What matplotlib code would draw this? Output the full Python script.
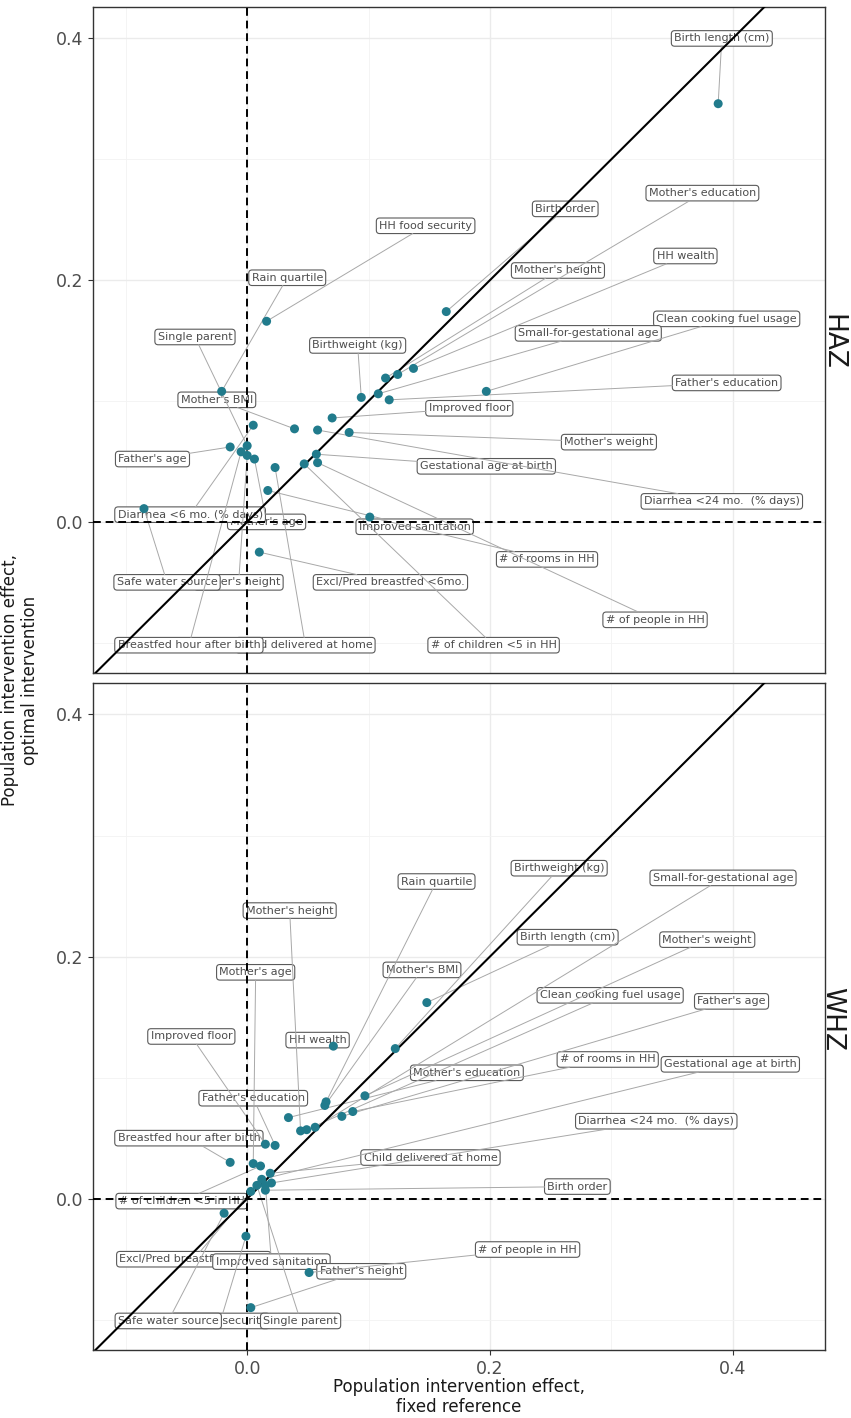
import matplotlib
matplotlib.use("Agg")
import matplotlib.pyplot as plt

# ---- HAZ panel: fixed-reference effect (x), optimal-intervention effect (y)
haz_labels = ["Mother's age", "Father's height", "Child delivered at home",
              "Birth length (cm)", "HH food security", "Birth order",
              "Mother's education", "Mother's height", "HH wealth",
              "Clean cooking fuel usage", "Small-for-gestational age",
              "Father's education", "Birthweight (kg)", "Improved floor",
              "Mother's weight", "Gestational age at birth",
              "Diarrhea <24 mo.  (% days)", "# of children <5 in HH",
              "# of people in HH", "Improved sanitation", "# of rooms in HH",
              "Excl/Pred breastfed <6mo.", "Mother's BMI", "Father's age",
              "Rain quartile", "Single parent", "Safe water source",
              "Diarrhea <6 mo. (% days)", "Breastfed hour after birth"]
haz_fixed = [0.006, 0.000, 0.023,
             0.388, 0.016, 0.164,
             0.124, 0.114, 0.137,
             0.197, 0.108,
             0.117, 0.094, 0.070,
             0.084, 0.057,
             0.058, 0.047,
             0.058, 0.017, 0.101,
             0.010, 0.039, -0.014,
             -0.021, 0.000, -0.085,
             0.005, -0.005]
haz_optimal = [0.052, 0.055, 0.045,
               0.346, 0.166, 0.174,
               0.122, 0.119, 0.127,
               0.108, 0.106,
               0.101, 0.103, 0.086,
               0.074, 0.056,
               0.076, 0.048,
               0.049, 0.026, 0.004,
               -0.025, 0.077, 0.062,
               0.108, 0.063, 0.011,
               0.080, 0.058]
haz_lab_x = [0.016, -0.007, 0.048,
             0.391, 0.147, 0.262,
             0.375, 0.256, 0.361,
             0.395, 0.281,
             0.395, 0.091, 0.183,
             0.298, 0.197,
             0.391, 0.203,
             0.336, 0.138, 0.247,
             0.118, -0.025, -0.078,
             0.033, -0.043, -0.066,
             -0.047, -0.048]
haz_lab_y = [0.000, -0.050, -0.102,
             0.400, 0.245, 0.259,
             0.272, 0.208, 0.220,
             0.168, 0.156,
             0.115, 0.146, 0.094,
             0.066, 0.046,
             0.017, -0.102,
             -0.081, -0.004, -0.031,
             -0.050, 0.101, 0.052,
             0.202, 0.153, -0.050,
             0.006, -0.102]

# ---- WHZ panel
whz_labels = ["Excl/Pred breastfed <6mo.", "HH food security",
              "Birth length (cm)", "Birthweight (kg)", "HH wealth",
              "Mother's weight", "Rain quartile", "Mother's BMI",
              "# of rooms in HH", "Father's age", "Small-for-gestational age",
              "Clean cooking fuel usage", "Mother's height",
              "Mother's education", "Improved floor", "Father's education",
              "Breastfed hour after birth", "Mother's age",
              "# of children <5 in HH", "Child delivered at home",
              "Gestational age at birth", "Diarrhea <24 mo.  (% days)",
              "Improved sanitation", "Birth order", "Safe water source",
              "Single parent", "# of people in HH", "Father's height"]
whz_fixed = [0.003, -0.001,
             0.148, 0.122, 0.071,
             0.097, 0.065, 0.064,
             0.087, 0.078, 0.056,
             0.049, 0.044,
             0.034, 0.015, 0.023,
             -0.014, 0.005,
             0.011, 0.019,
             0.012, 0.020,
             0.015, 0.015, -0.019,
             0.008, 0.051, 0.003]
whz_optimal = [0.006, -0.031,
               0.162, 0.124, 0.126,
               0.085, 0.080, 0.077,
               0.072, 0.068, 0.059,
               0.057, 0.056,
               0.067, 0.045, 0.044,
               0.030, 0.029,
               0.027, 0.021,
               0.016, 0.013,
               0.011, 0.007, -0.012,
               0.011, -0.061, -0.090]
whz_lab_x = [-0.044, -0.022,
             0.264, 0.257, 0.058,
             0.379, 0.156, 0.144,
             0.297, 0.399, 0.392,
             0.299, 0.035,
             0.181, -0.046, 0.005,
             -0.048, 0.007,
             -0.054, 0.151,
             0.398, 0.337,
             0.020, 0.272, -0.065,
             0.044, 0.231, 0.094]
whz_lab_y = [-0.050, -0.101,
             0.216, 0.273, 0.131,
             0.214, 0.262, 0.189,
             0.115, 0.163, 0.265,
             0.168, 0.238,
             0.104, 0.134, 0.083,
             0.050, 0.187,
             -0.002, 0.034,
             0.111, 0.064,
             -0.052, 0.010, -0.101,
             -0.101, -0.042, -0.060]

POINT_COLOR = "#217b8c"


def draw_panel(ax, labels, fixed, optimal, lab_x, lab_y, show_x):
    ax.set_xlim(-0.127, 0.476)
    ax.set_ylim(-0.125, 0.426)
    for axis in (ax.xaxis, ax.yaxis):
        axis.set_ticks([0.0, 0.2, 0.4])
        axis.set_ticks([-0.1, 0.1, 0.3], minor=True)
    ax.set_xticklabels(["0.0", "0.2", "0.4"])
    ax.set_yticklabels(["0.0", "0.2", "0.4"])
    ax.grid(which="major", color="#EBEBEB", lw=1.0)
    ax.grid(which="minor", color="#F3F3F3", lw=0.6)
    ax.set_axisbelow(True)
    ax.tick_params(which="minor", length=0)
    ax.tick_params(which="major", length=3.5, width=0.8, color="#333333",
                   labelsize=12.5, labelcolor="#4D4D4D")
    if not show_x:
        ax.tick_params(axis="x", bottom=False, labelbottom=False)
    for sp in ax.spines.values():
        sp.set_color("#333333")
        sp.set_linewidth(1.0)

    texts = []
    for i, lab in enumerate(labels):
        t = ax.text(lab_x[i], lab_y[i], lab, ha="center", va="center",
                    fontsize=8, color="#4D4D4D", zorder=3,
                    bbox=dict(boxstyle="round,pad=0.25,rounding_size=0.3",
                              fc="white", ec="#5A5A5A", lw=0.8))
        texts.append(t)

    ax.plot([-1, 1], [-1, 1], color="black", lw=1.5, zorder=4)
    ax.axhline(0, color="black", lw=1.4, ls=(0, (4, 2.5)), zorder=4)
    ax.axvline(0, color="black", lw=1.4, ls=(0, (4, 2.5)), zorder=4)
    ax.scatter(fixed, optimal, s=42, color=POINT_COLOR, edgecolors="none",
               zorder=6)
    return texts


def add_segments(fig, ax, texts, fixed, optimal):
    # segment from each point to the edge of its label box (ggrepel style)
    renderer = fig.canvas.get_renderer()
    inv = ax.transData.inverted()
    for t, x, y in zip(texts, fixed, optimal):
        bb = t.get_bbox_patch().get_window_extent(renderer)
        px, py = ax.transData.transform((x, y))
        if bb.contains(px, py):
            continue
        cx, cy = (bb.x0 + bb.x1) / 2, (bb.y0 + bb.y1) / 2
        dx, dy = px - cx, py - cy
        s = min(bb.width / 2 / abs(dx) if dx else 1e9,
                bb.height / 2 / abs(dy) if dy else 1e9)
        ex, ey = inv.transform((cx + s * dx, cy + s * dy))
        ax.plot([x, ex], [y, ey], color="#A8A8A8", lw=0.7, zorder=3.5)


fig = plt.figure(figsize=(8.51, 14.18), dpi=100)
ax1 = fig.add_axes([93 / 851, 1 - 673 / 1418, 732 / 851, 666 / 1418])
ax2 = fig.add_axes([93 / 851, 1 - 1350 / 1418, 732 / 851, 667 / 1418])

t1 = draw_panel(ax1, haz_labels, haz_fixed, haz_optimal, haz_lab_x, haz_lab_y, False)
t2 = draw_panel(ax2, whz_labels, whz_fixed, whz_optimal, whz_lab_x, whz_lab_y, True)

fig.canvas.draw()
add_segments(fig, ax1, t1, haz_fixed, haz_optimal)
add_segments(fig, ax2, t2, whz_fixed, whz_optimal)

# facet strips on the right
fig.text(832 / 851, 1 - 342 / 1418, "HAZ", rotation=-90, ha="center",
         va="center", fontsize=19, color="#1A1A1A")
fig.text(832 / 851, 1 - 1019 / 1418, "WHZ", rotation=-90, ha="center",
         va="center", fontsize=19, color="#1A1A1A")

fig.text(20 / 851, 1 - 680 / 1418,
         "Population intervention effect,\noptimal intervention",
         rotation=90, ha="center", va="center", fontsize=12, color="#1A1A1A")
fig.text(459 / 851, 1 - 1397 / 1418,
         "Population intervention effect,\nfixed reference",
         ha="center", va="center", fontsize=12, color="#1A1A1A")

fig.savefig("out.png", dpi=100)
plt.close(fig)
